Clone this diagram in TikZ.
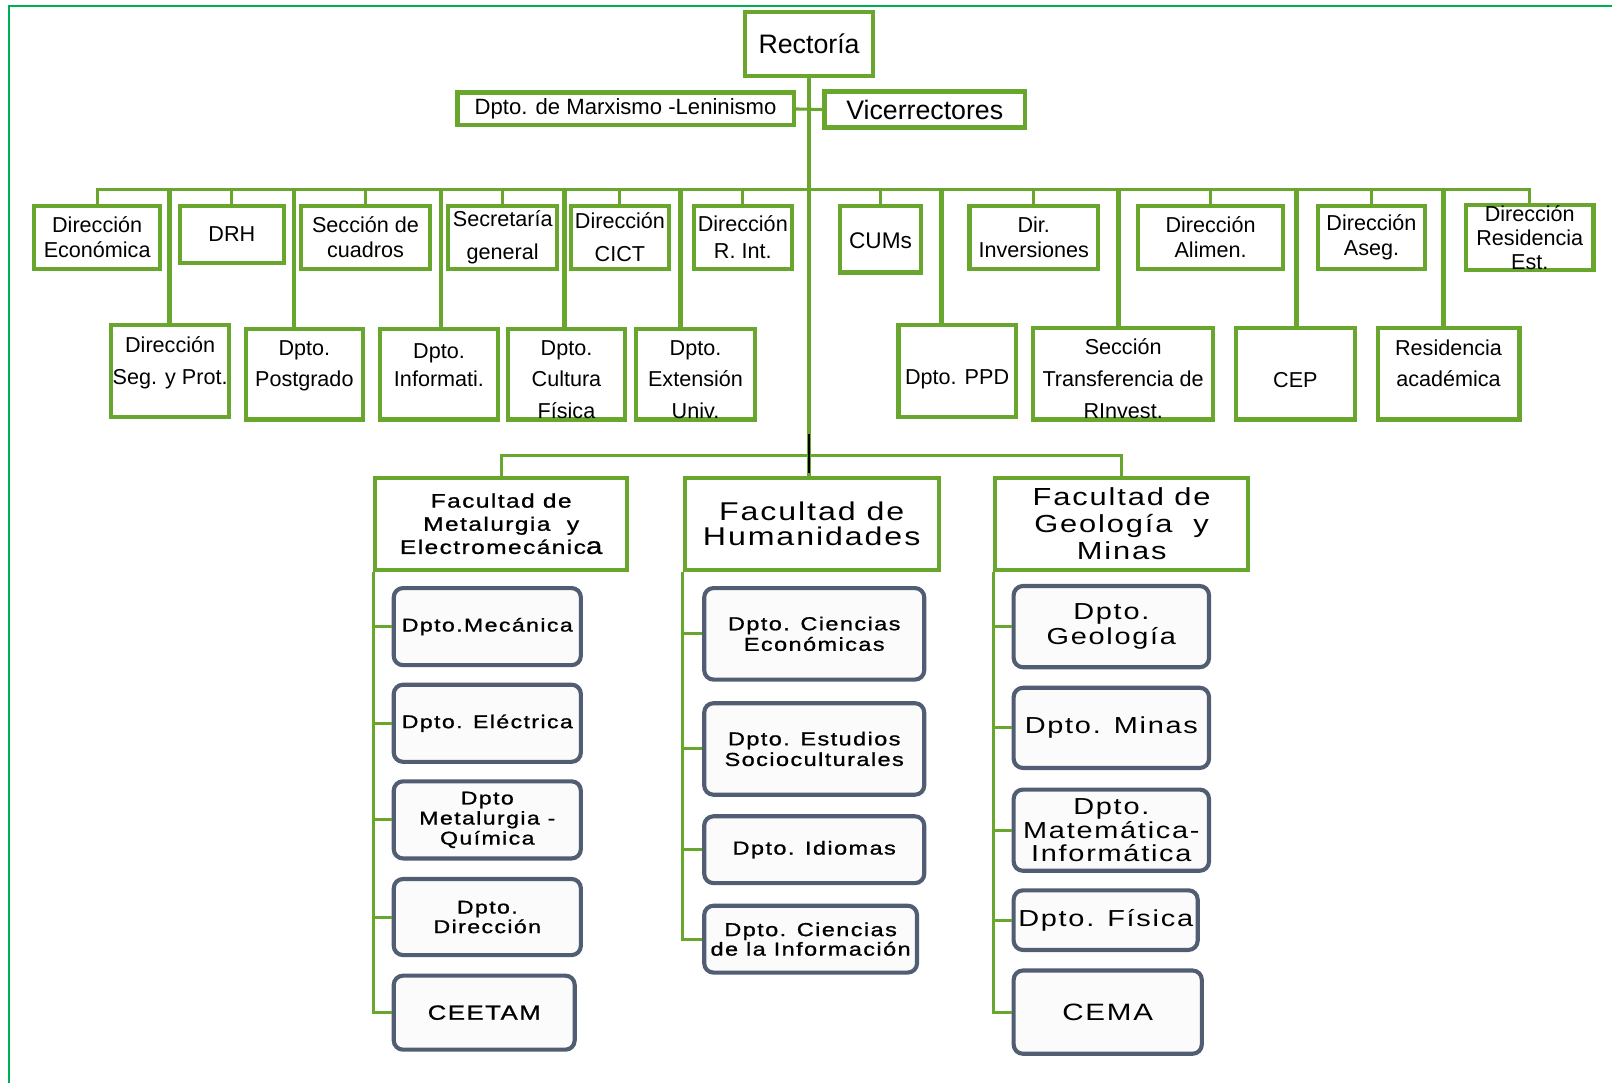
\documentclass[tikz,border=0pt]{standalone}
\usepackage{fontspec}
\setmainfont{Liberation Sans}
\newfontfamily\wf[FakeStretch=1.25,LetterSpace=7.5]{Liberation Sans}
\newfontfamily\wfb[FakeStretch=1.25,LetterSpace=7.5,FakeBold=1]{Liberation Sans}
\definecolor{gr}{RGB}{104,166,46}
\definecolor{brd}{RGB}{0,176,80}
\definecolor{sl}{RGB}{80,93,115}
\definecolor{dfill}{RGB}{251,251,251}
\newcommand\fs[2]{\fontsize{#1}{#2}\selectfont}
\newcommand\up[1]{\rule{0pt}{#1pt}}
\newcommand\bx[7]{%
  \pgfmathsetmacro\bw{#5-#3-4}\pgfmathsetmacro\bh{#6-#4-4}%
  \node[#1,minimum width=\bw pt,minimum height=\bh pt] (#2) at ({(#3+#5)/2},{(#4+#6)/2}) {#7};}
\tikzset{
  tb/.style={draw=gr, line width=4pt, fill=white, inner sep=0pt, align=center, font=\fs{21}{24}},
  fac/.style={draw=gr, line width=4pt, fill=white, inner sep=0pt, align=center},
  dep/.style={draw=sl, line width=4pt, fill=dfill, rounded corners=9pt, inner sep=0pt, align=center, font=\wfb\fs{18}{19.5}},
  ln/.style={draw=gr, line width=3pt},
  lnb/.style={draw=gr, line width=4.5pt},
}
\begin{document}
\begin{tikzpicture}[x=1pt,y=-1pt]
\useasboundingbox (0,0) rectangle (1568,1053);
\draw[brd, line width=2pt] (9,1060) -- (9,6) -- (1575,6);

% top level
\bx{tb,font=\fs{26}{30}}{rect}{723}{10}{851}{76}{Rectoría}
\bx{tb,font=\fs{21.5}{25}}{marx}{443}{88}{774}{124}{Dpto. de Marxismo -Leninismo}
\bx{tb,font=\fs{26}{30}}{vice}{800}{87}{999}{126}{Vicerrectores}

% first row
\bx{tb}{deco}{31}{198}{158}{264}{Dirección\\Económica}
\bx{tb}{drh}{173}{198}{278}{258}{DRH}
\bx{tb}{scu}{291}{198}{420}{264}{Sección de\\cuadros}
\bx{tb,font=\fs{21}{32}}{sgen}{434}{198}{544}{264}{Secretaría\\general}
\bx{tb,font=\fs{21}{32}}{cict}{553}{198}{653}{264}{Dirección\\CICT}
\bx{tb,font=\fs{21}{26}}{rint}{673}{198}{772}{264}{Dirección\\R. Int.}
\bx{tb,font=\fs{22}{26}}{cums}{815}{198}{898}{267}{\up{19}CUMs}
\bx{tb}{dinv}{941}{198}{1070}{264}{Dir.\\Inversiones}
\bx{tb}{dali}{1105}{198}{1250}{264}{Dirección\\Alimen.}
\bx{tb}{dase}{1280}{198}{1388}{264}{Dirección\\Aseg.}
\bx{tb,font=\fs{21}{23.5}}{dres}{1424}{198}{1552}{264}{Dirección\\Residencia\\Est.}

% second row
\bx{tb,font=\fs{21}{31}}{dseg}{106}{314}{225}{408}{Dirección\\Seg. y Prot.\\[-10pt]\mbox{}}
\bx{tb,font=\fs{21}{30}}{dpos}{237}{318}{355}{410}{Dpto.\\Postgrado\\[-10pt]\mbox{}}
\bx{tb,font=\fs{21}{28}}{dinf}{368}{318}{486}{410}{Dpto.\\Informati.\\[-10pt]\mbox{}}
\bx{tb,font=\fs{21}{31}}{dcul}{492}{318}{610}{410}{\up{25}Dpto.\\Cultura\\Física}
\bx{tb,font=\fs{21}{31}}{dext}{617}{318}{736}{410}{\up{25}Dpto.\\Extensión\\Univ.}
\bx{tb}{dppd}{872}{314}{990}{408}{\up{31}Dpto. PPD}
\bx{tb,font=\fs{21}{31}}{dstr}{1003}{317}{1182}{410}{\up{25}Sección\\Transferencia de\\RInvest.}
\bx{tb}{dcep}{1200}{317}{1320}{410}{\up{27}CEP}
\bx{tb,font=\fs{21}{30}}{dral}{1338}{317}{1480}{410}{Residencia\\académica\\[-10pt]\mbox{}}

% faculties
\bx{fac,font=\wfb\fs{19}{22.5}}{f1}{363}{463}{612}{556}{Facultad de\\Metalurgia\ \ y\\Electromecánic{\fs{23}{22.5}a}}
\bx{fac,font=\wf\fs{25}{25}}{f2}{664}{463}{915}{556}{Facultad de\\Humanidades}
\bx{fac,font=\wf\fs{24}{26}}{f3}{966}{463}{1216}{556}{Facultad de\\Geología\ \ y\\Minas}

% departments
\bx{dep}{mec}{381}{570}{567}{649}{Dpto.Mecánica}
\bx{dep}{ele}{381}{664}{567}{743}{Dpto. Eléctrica}
\bx{dep}{mqu}{381}{758}{567}{837}{Dpto\\Metalurgia -\\Química}
\bx{dep,font=\wfb\fs{18}{19}}{ddi}{381}{853}{567}{931}{Dpto.\\Dirección}
\bx{dep,font=\wfb\fs{20}{22}}{cee}{381}{947}{561}{1023}{CEETAM}

\bx{dep,font=\wfb\fs{18.3}{20}}{cec}{683}{570}{901}{663}{Dpto. Ciencias\\Económicas}
\bx{dep,font=\wfb\fs{18.3}{20}}{ces}{683}{682}{901}{775}{Dpto. Estudios\\Socioculturales}
\bx{dep,font=\wfb\fs{18.3}{20}}{cid}{683}{792}{901}{861}{Dpto. Idiomas}
\bx{dep,font=\wfb\fs{18.3}{19}}{cin}{683}{879}{894}{948}{Dpto. Ciencias\\de la Información}

\bx{dep,font=\wf\fs{22.5}{24}}{geo}{984}{568}{1178}{651}{Dpto.\\Geología}
\bx{dep,font=\wf\fs{22.5}{24}}{min}{984}{667}{1178}{749}{Dpto. Minas}
\bx{dep,font=\wf\fs{22.5}{23}}{mat}{984}{766}{1178}{849}{Dpto.\\Matemática-\\Informática}
\bx{dep,font=\wf\fs{22.5}{24}}{fis}{984}{864}{1167}{926}{Dpto. Física}
\bx{dep,font=\wf\fs{23}{24}}{cem}{984}{942}{1171}{1027}{CEMA}

% connectors
\coordinate (tb) at (787,443);
\coordinate (bus) at (787,184);
\draw[lnb] (rect.south) -- (tb);
\draw[ln] (marx.east) -- (vice.west);
\draw[ln] (deco.north) |- (bus) -| (dres.north);
\foreach \n in {drh,scu,sgen,cict,rint,cums,dinv,dali,dase}
  \draw[ln] (\n.north) -- (\n.north |- bus);
\foreach \x/\n in {165/dseg,286/dpos,429/dinf,549/dcul,662/dext,916/dppd,1088/dstr,1261/dcep,1404/dral}{
  \coordinate (v\n) at (\x,184);
  \draw[lnb] (v\n) -- (v\n |- \n.north);
}
\draw[ln] (f1.north) |- (tb) -| (f3.north);
\draw[lnb] (tb) -- (tb |- f2.north);
\draw[black, line width=1.5pt] ([yshift=21pt]tb) -- ([yshift=-17pt]tb);

\draw[ln] (f1.south west) |- (cee.west);
\foreach \n in {mec,ele,mqu,ddi} \draw[ln] (\n.west) -- (\n.west -| f1.south west);
\draw[ln] (f2.south west) |- (cin.west);
\foreach \n in {cec,ces,cid} \draw[ln] (\n.west) -- (\n.west -| f2.south west);
\draw[ln] (f3.south west) |- (cem.west);
\foreach \n in {geo,min,mat,fis} \draw[ln] (\n.west) -- (\n.west -| f3.south west);
\end{tikzpicture}
\end{document}
